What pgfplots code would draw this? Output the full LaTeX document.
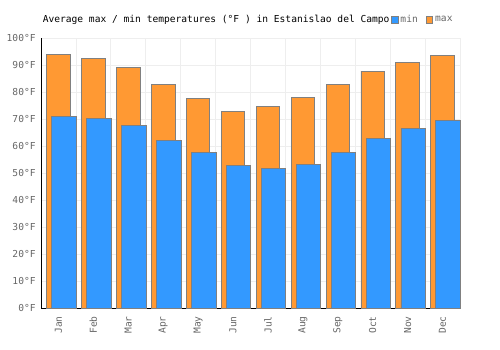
\documentclass[border=0pt]{standalone}
\usepackage{fontspec}
\setmainfont{DejaVu Sans Mono}
\setmonofont{DejaVu Sans Mono}
\usepackage{pgfplots}
\pgfplotsset{compat=1.18}
\definecolor{maxc}{HTML}{FF9933}
\definecolor{minc}{HTML}{3399FF}
\definecolor{edgec}{HTML}{808080}
\definecolor{tickc}{HTML}{666666}
\definecolor{gridc}{HTML}{EEEEEE}
\begin{document}
\fontsize{9.6pt}{11pt}\selectfont
\begin{tikzpicture}[x=1pt,y=1pt]
\path[use as bounding box] (0,0) rectangle (500,350);
\begin{axis}[
  at={(41pt,42pt)}, anchor=south west,
  scale only axis, width=419pt, height=270pt,
  xmin=-0.5, xmax=11.5, ymin=0, ymax=100,
  xtick={0,...,11},
  xticklabels={Jan,Feb,Mar,Apr,May,Jun,Jul,Aug,Sep,Oct,Nov,Dec},
  minor xtick={-0.5,0.5,...,11.5},
  xminorgrids, ymajorgrids,
  minor grid style={gridc, line width=0.8pt},
  major grid style={gridc, line width=0.8pt},
  ytick={0,10,...,100},
  yticklabels={0°F,10°F,20°F,30°F,40°F,50°F,60°F,70°F,80°F,90°F,100°F},
  major tick length=0pt, minor tick length=0pt,
  x tick label style={rotate=90, anchor=east, text=tickc, font=\fontsize{9.6pt}{11pt}\selectfont},
  y tick label style={text=tickc, font=\fontsize{9.6pt}{11pt}\selectfont},
  xticklabel shift=5pt, yticklabel shift=2pt,
  axis x line*=bottom, axis y line*=left,
  axis line style={black, line width=0.8pt, -},
  ybar, bar width=23.5pt,
  clip=false,
  legend columns=2,
  legend style={at={(axis description cs:0.835,1.068)}, anchor=west, draw=none, fill=none, inner sep=0pt,
    font=\fontsize{9.6pt}{11pt}\selectfont, text=tickc,
    /tikz/every even column/.append style={column sep=6pt}},
  legend image code/.code={\draw[#1] (0pt,-3.3pt) rectangle (6.6pt,3.3pt);},
  reverse legend,
]
\addplot[fill=maxc, draw=edgec, line width=0.8pt, bar shift=0pt] coordinates {
(0,94.0) (1,92.5) (2,89.1) (3,82.8) (4,77.7) (5,72.8) (6,74.7) (7,78.0) (8,82.8) (9,87.7) (10,91.0) (11,93.6)};
\addlegendentry{max}
\addplot[fill=minc, draw=edgec, line width=0.8pt, bar shift=5.6pt, bar width=24.5pt] coordinates {
(0,71.0) (1,70.3) (2,67.7) (3,62.1) (4,57.7) (5,52.9) (6,51.7) (7,53.2) (8,57.7) (9,62.8) (10,66.6) (11,69.5)};
\addlegendentry{min}
\node[anchor=center, inner sep=0pt, font=\fontsize{9.6pt}{11pt}\selectfont] at (axis description cs:0.418,1.068) {Average max / min temperatures (°F ) in Estanislao del Campo};
\end{axis}
\end{tikzpicture}
\end{document}
